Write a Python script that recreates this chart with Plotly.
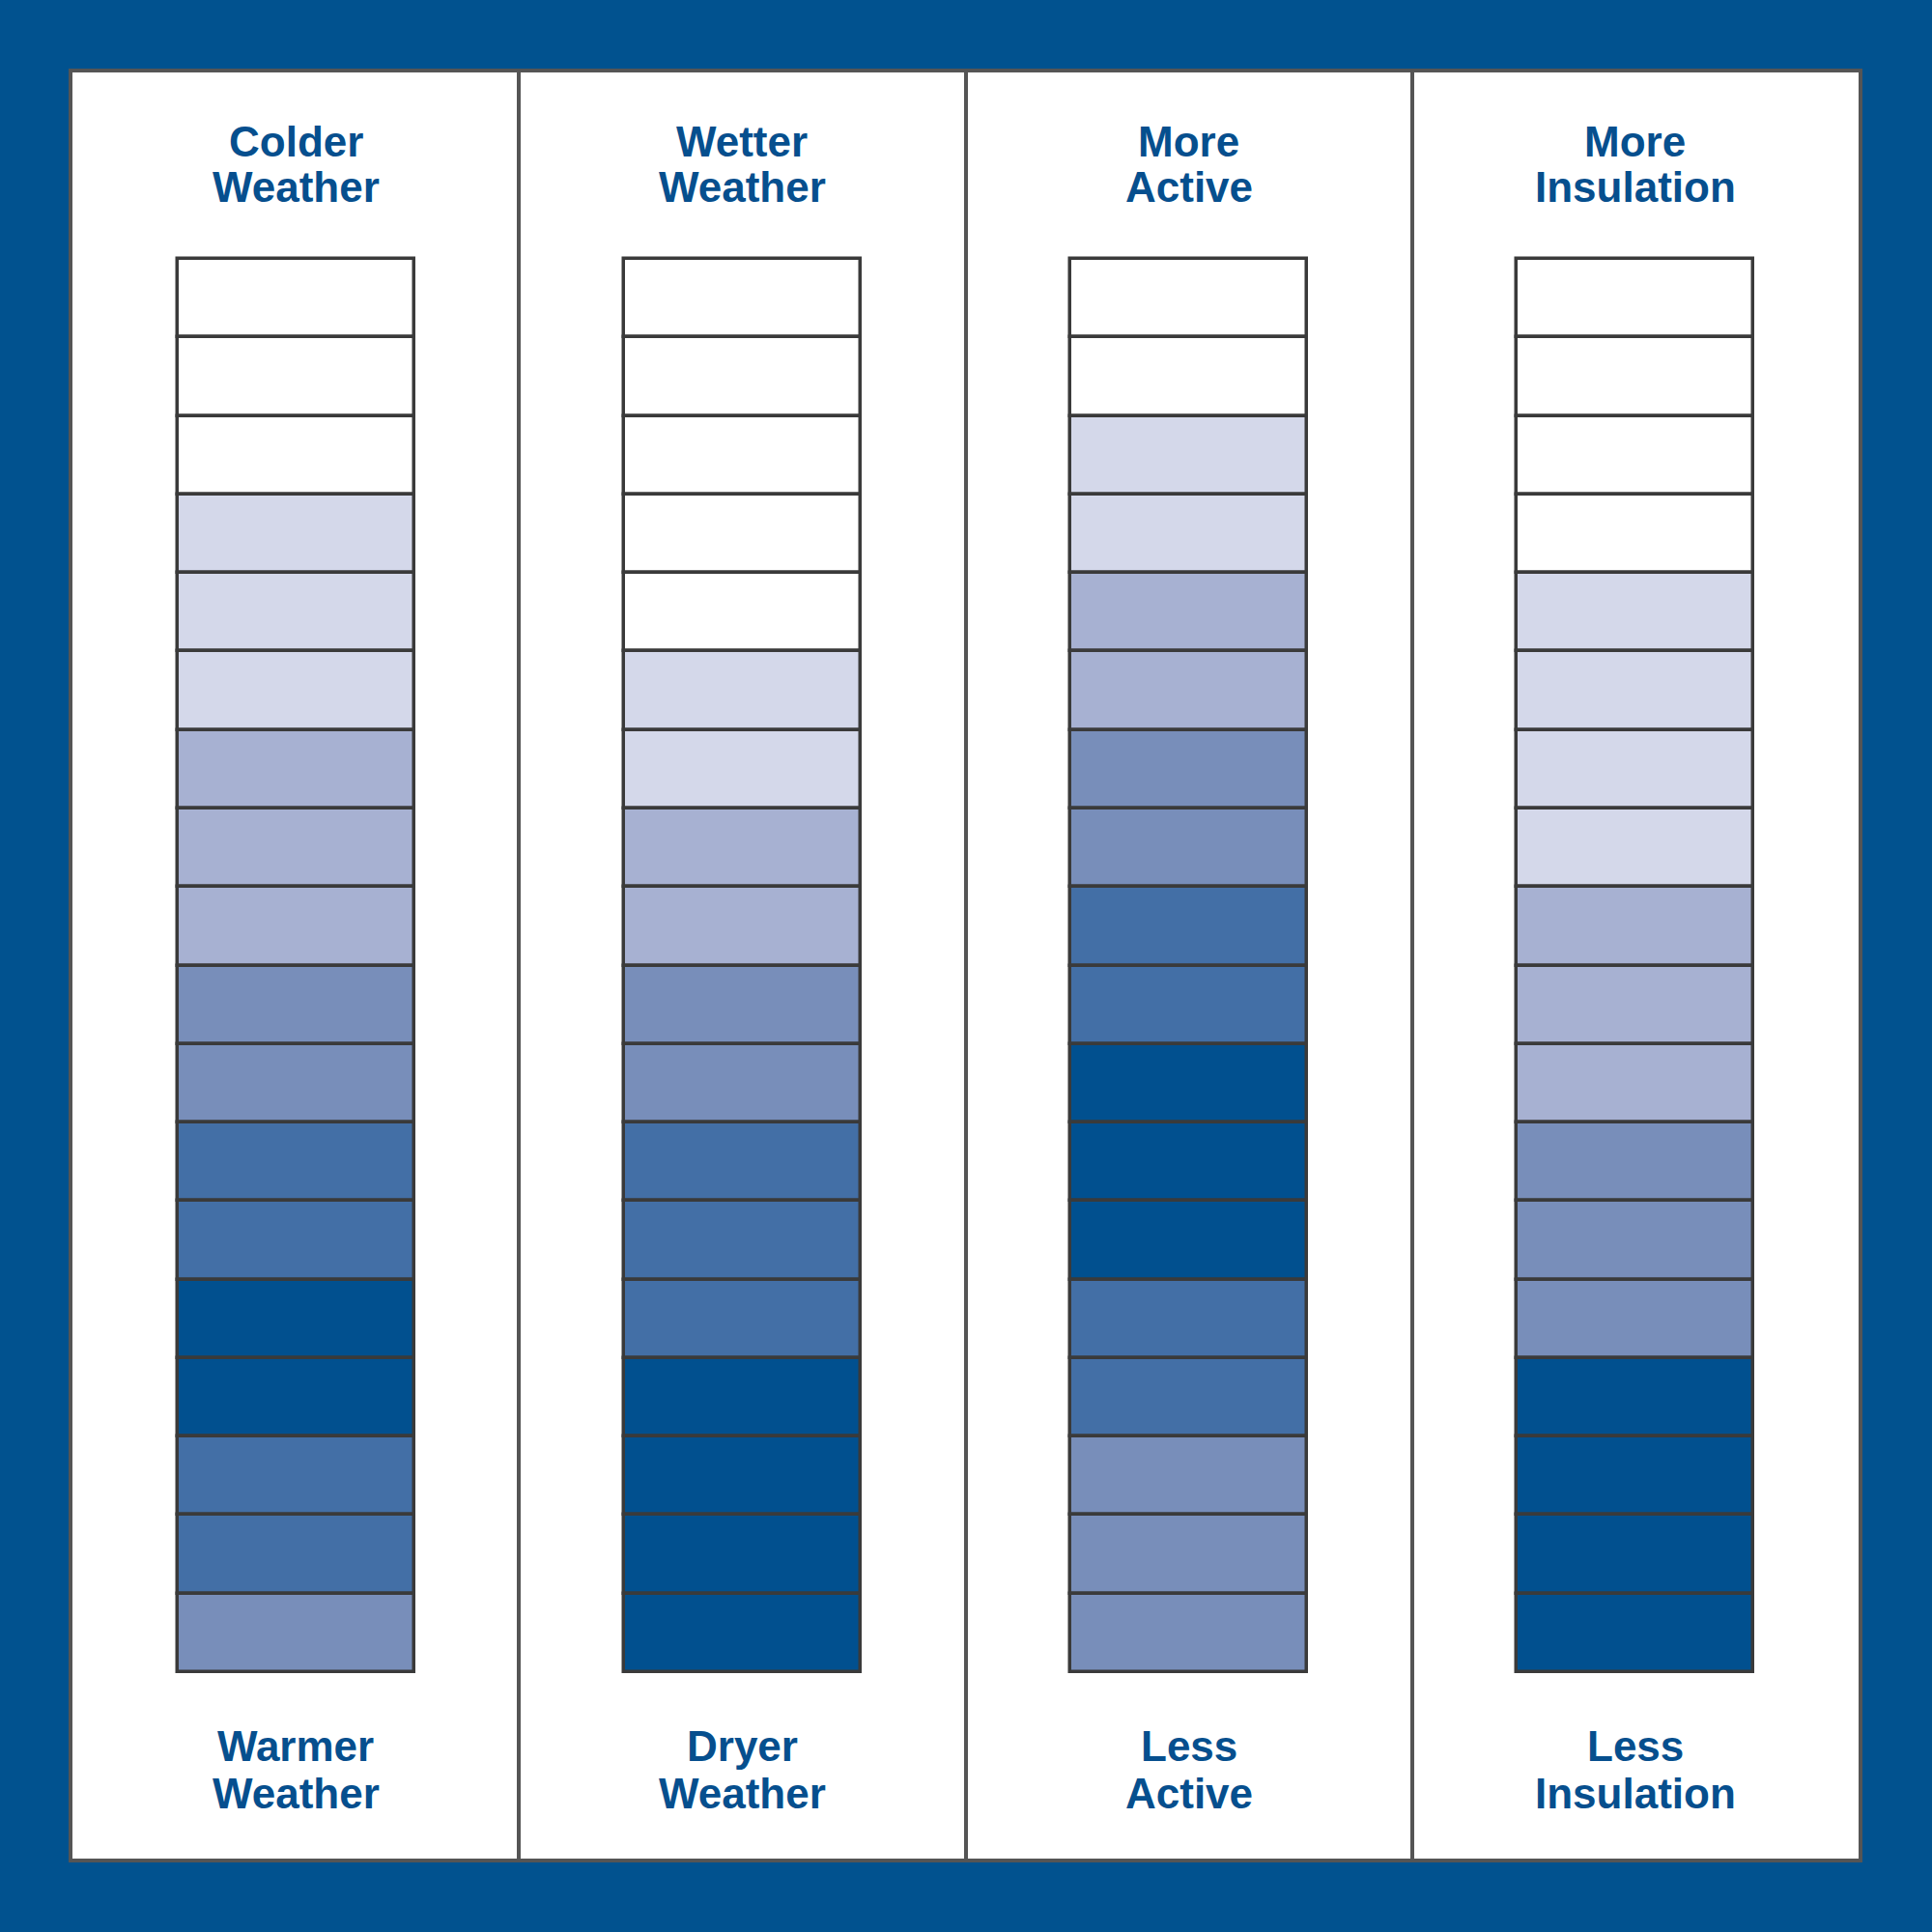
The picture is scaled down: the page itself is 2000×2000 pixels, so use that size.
import plotly.graph_objects as go

# Column headings (top and bottom labels, two lines each)
top_line1 = ["Colder", "Wetter", "More", "More"]
top_line2 = ["Weather", "Weather", "Active", "Insulation"]
bottom_line1 = ["Warmer", "Dryer", "Less", "Less"]
bottom_line2 = ["Weather", "Weather", "Active", "Insulation"]

# Intensity level of each cell, listed from top to bottom (0 = white ... 5 = darkest)
col_colder = [0, 0, 0, 1, 1, 1, 2, 2, 2, 3, 3, 4, 4, 5, 5, 4, 4, 3]
col_wetter = [0, 0, 0, 0, 0, 1, 1, 2, 2, 3, 3, 4, 4, 4, 5, 5, 5, 5]
col_active = [0, 0, 1, 1, 2, 2, 3, 3, 4, 4, 5, 5, 5, 4, 4, 3, 3, 3]
col_insul = [0, 0, 0, 0, 1, 1, 1, 1, 2, 2, 2, 3, 3, 3, 5, 5, 5, 5]
columns = [col_colder, col_wetter, col_active, col_insul]

level_colors = ["#FFFFFF", "#D4D8EA", "#A7B1D2", "#788EBA", "#436FA6", "#01508F"]
BLUE = "#01528F"
TEXT_BLUE = "#064F8E"
LINE = "#3A3A3A"
FRAME = "#555555"

xs, ys, bases, colors = [], [], [], []
for ci, col in enumerate(columns):
    n = len(col)
    for ri, lvl in enumerate(col):
        xs.append(ci)
        ys.append(1)
        bases.append(n - 1 - ri)
        colors.append(level_colors[lvl])

fig = go.Figure()
fig.add_trace(go.Bar(
    x=xs, y=ys, base=bases, width=0.53,
    marker=dict(color=colors, line=dict(color=LINE, width=3.5)),
    hoverinfo="skip", showlegend=False,
))

font = dict(family="Liberation Sans, Arial, sans-serif", size=44, color=TEXT_BLUE, weight="bold")
for ci in range(4):
    for text, yv in [(top_line1[ci], 19.5), (top_line2[ci], 18.92),
                     (bottom_line1[ci], -0.94), (bottom_line2[ci], -1.54)]:
        fig.add_annotation(x=ci, y=yv, text=text, showarrow=False,
                           xanchor="center", yanchor="middle", font=font)

fig.update_layout(
    width=2000, height=2000,
    margin=dict(l=75, r=76, t=75, b=76),
    paper_bgcolor=BLUE, plot_bgcolor="#FFFFFF",
    barmode="overlay", bargap=0,
    xaxis=dict(range=[-0.5, 3.5], tickvals=[0.5, 1.5, 2.5], showticklabels=False,
               showgrid=True, gridcolor=FRAME, gridwidth=4, zeroline=False,
               showline=True, mirror=True, linecolor=FRAME, linewidth=4, ticks=""),
    yaxis=dict(range=[-2.374, 20.374], showticklabels=False, showgrid=False,
               zeroline=False, showline=True, mirror=True, linecolor=FRAME,
               linewidth=4, ticks=""),
)

fig.write_html(
    "out.html",
    config={"displayModeBar": False},
    post_script="document.body.style.margin='0';document.body.style.padding='0';"
                "document.body.style.background='" + BLUE + "';",
)
